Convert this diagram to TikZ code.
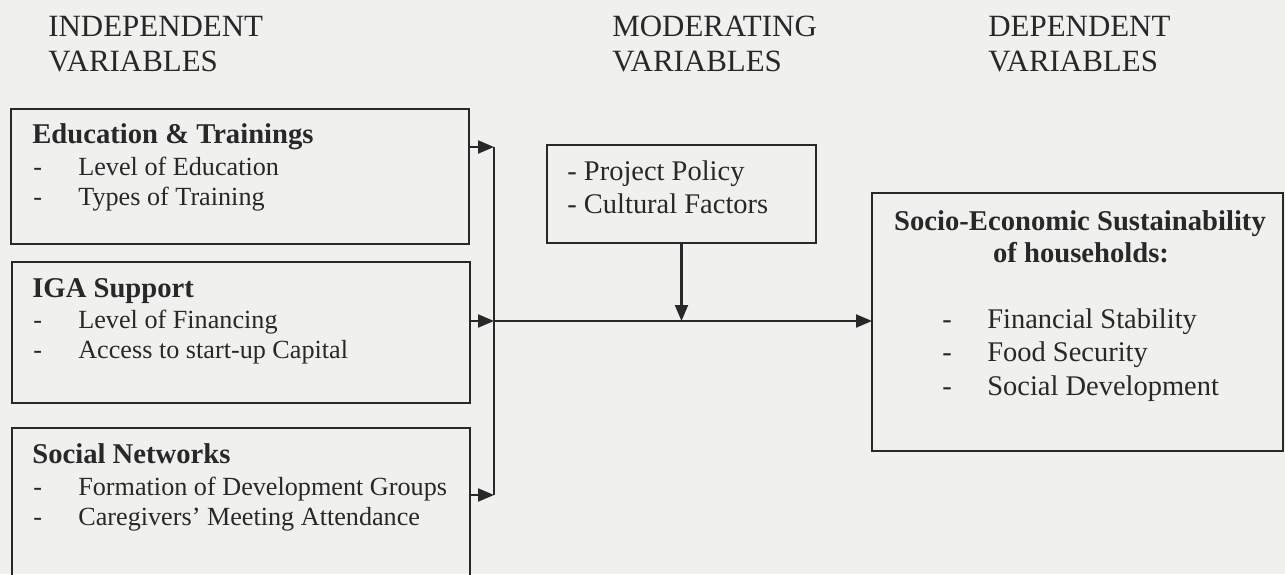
\documentclass[tikz,border=0pt]{standalone}
\usepackage{fontspec}
\setmainfont{Liberation Serif}
\usetikzlibrary{arrows.meta}
\definecolor{scanbg}{RGB}{240,240,238}
\definecolor{inkgray}{RGB}{40,40,40}
\newcommand{\dashitem}[1]{\makebox[0.9cm][l]{-}#1}

\begin{document}
\begin{tikzpicture}[
  box/.style={draw=inkgray, line width=1.2pt, inner sep=0pt, outer sep=0pt},
  arr/.style={draw=inkgray, line width=1.2pt, -{Triangle[length=0.32cm,width=0.26cm]}},
  hdr/.style={anchor=base west, inner sep=0pt, text=inkgray, font=\fontsize{17.6}{21}\selectfont},
  ttl/.style={anchor=base west, inner sep=0pt, text=inkgray, font=\fontsize{16.3}{19}\selectfont\bfseries},
  itm/.style={anchor=base west, inner sep=0pt, text=inkgray, font=\fontsize{14.9}{18}\selectfont},
  big/.style={anchor=base west, inner sep=0pt, text=inkgray, font=\fontsize{16.2}{19}\selectfont}
]
\fill[scanbg] (0,0) rectangle (25.7,11.48);
\useasboundingbox (0,0) rectangle (25.7,11.48);

% Headings
\node[hdr] (indep1) at (0.96,10.74) {INDEPENDENT};
\node[hdr] (indep2) at (0.96,10.04) {VARIABLES};
\node[hdr] (moder1) at (12.24,10.74) {MODERATING};
\node[hdr] (moder2) at (12.24,10.04) {VARIABLES};
\node[hdr] (depen1) at (19.76,10.74) {DEPENDENT};
\node[hdr] (depen2) at (19.76,10.04) {VARIABLES};

% Education & Trainings
\node[box, minimum width=9.16cm, minimum height=2.70cm] (edu) at (4.80,7.95) {};
\node[ttl] (eduttl) at (0.64,8.62) {Education \& Trainings};
\node[itm] (edua) at (0.66,7.98) {\dashitem{Level of Education}};
\node[itm] (edub) at (0.66,7.38) {\dashitem{Types of Training}};

% IGA Support
\node[box, minimum width=9.16cm, minimum height=2.82cm] (iga) at (4.82,4.83) {};
\node[ttl] (igattl) at (0.64,5.54) {IGA Support};
\node[itm] (igaa) at (0.66,4.92) {\dashitem{Level of Financing}};
\node[itm] (igab) at (0.66,4.32) {\dashitem{Access to start-up Capital}};

% Social Networks
\node[box, minimum width=9.16cm, minimum height=3.22cm] (soc) at (4.82,1.31) {};
\node[ttl] (socttl) at (0.64,2.22) {Social Networks};
\node[itm] (soca) at (0.66,1.58) {\dashitem{Formation of Development Groups}};
\node[itm] (socb) at (0.66,0.98) {\dashitem{Caregivers’ Meeting Attendance}};

% Moderating
\node[box, minimum width=5.38cm, minimum height=1.96cm] (mod) at (13.63,7.60) {};
\node[big] (moda) at (11.34,7.88) {- Project Policy};
\node[big] (modb) at (11.34,7.22) {- Cultural Factors};

% Dependent
\node[box, minimum width=8.22cm, minimum height=5.16cm] (dep) at (21.55,5.04) {};
\node[ttl, anchor=base] (depttl) at (21.60,6.88) {Socio-Economic Sustainability};
\node[ttl, anchor=base] (depttl2) at (21.62,6.24) {of households:};
\node[big] (depa) at (18.84,4.92) {\dashitem{Financial Stability}};
\node[big] (depb) at (18.84,4.25) {\dashitem{Food Security}};
\node[big] (depc) at (18.84,3.58) {\dashitem{Social Development}};

% Connectors
\coordinate (b1) at (9.88,8.54);
\coordinate (b2) at (9.88,5.06);
\coordinate (b3) at (9.88,1.58);
\draw[box] (b1) -- (b3);
\draw[arr] (edu.east |- b1) -- (b1);
\draw[arr] (iga.east |- b2) -- (b2);
\draw[arr] (soc.east |- b3) -- (b3);
\draw[arr] (b2) -- (dep.west |- b2);
\draw[arr] (mod.south) -- (mod.south |- b2);
\end{tikzpicture}
\end{document}
